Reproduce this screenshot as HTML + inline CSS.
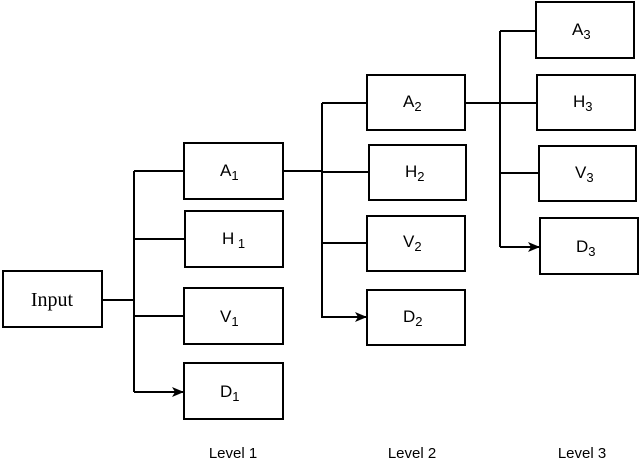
<!DOCTYPE html>
<html><head><meta charset="utf-8"><style>
html,body{margin:0;padding:0;background:#fff;}
svg{display:block;}
text{font-family:"Liberation Sans",Arial,sans-serif;font-size:17px;fill:#000;}
.s{font-size:13px;}
</style></head><body>
<svg width="640" height="460" viewBox="0 0 640 460" xmlns="http://www.w3.org/2000/svg">
<defs>
<marker id="ar" markerWidth="12" markerHeight="10" refX="11" refY="5" orient="auto" markerUnits="userSpaceOnUse">
<path d="M0,0 L12,5 L0,10 L3,5 Z" fill="#000"/>
</marker>
</defs>
<g fill="none" stroke="#000" stroke-width="2">
<rect x="3" y="271" width="99" height="56"/>
<rect x="184" y="143" width="99" height="56"/>
<rect x="185" y="211" width="98" height="56"/>
<rect x="184" y="288" width="99" height="56"/>
<rect x="184" y="363" width="99" height="56"/>
<rect x="367" y="75" width="98" height="55"/>
<rect x="369" y="145" width="97" height="55"/>
<rect x="367" y="216" width="98" height="55"/>
<rect x="367" y="290" width="98" height="55"/>
<rect x="536" y="2" width="98" height="56"/>
<rect x="537" y="75" width="98" height="55"/>
<rect x="539" y="146" width="97" height="55"/>
<rect x="540" y="218" width="98" height="56"/>
<path d="M102,300 H134 M134,171 V392"/>
<path d="M134,171 H183 M134,239 H184 M134,316 H183 M134,392 H183" marker-end="url(#ar)"/>
<path d="M283,171 H322 M322,103 V318"/>
<path d="M322,103 H366 M322,172 H368 M322,243 H366 M322,317 H366" marker-end="url(#ar)"/>
<path d="M465,103 H500 M500,31 V247"/>
<path d="M500,31 H535 M500,103 H536 M500,173 H538 M500,247 H539" marker-end="url(#ar)"/>
</g>
<text x="52" y="306" text-anchor="middle" style="font-family:'Liberation Serif',serif;font-size:20px">Input</text>
<text x="220" y="176">A<tspan class="s" dy="4">1</tspan></text>
<text x="222" y="244">H<tspan class="s" dy="4"> 1</tspan></text>
<text x="220" y="322">V<tspan class="s" dy="4">1</tspan></text>
<text x="220" y="397">D<tspan class="s" dy="4">1</tspan></text>
<text x="403" y="107">A<tspan class="s" dy="4">2</tspan></text>
<text x="405" y="177">H<tspan class="s" dy="4">2</tspan></text>
<text x="403" y="247">V<tspan class="s" dy="4">2</tspan></text>
<text x="403" y="322">D<tspan class="s" dy="4">2</tspan></text>
<text x="572" y="35">A<tspan class="s" dy="4">3</tspan></text>
<text x="573" y="107">H<tspan class="s" dy="4">3</tspan></text>
<text x="575" y="178">V<tspan class="s" dy="4">3</tspan></text>
<text x="576" y="252">D<tspan class="s" dy="4">3</tspan></text>
<text x="233" y="458" text-anchor="middle" style="font-size:15px">Level 1</text>
<text x="412" y="458" text-anchor="middle" style="font-size:15px">Level 2</text>
<text x="582" y="458" text-anchor="middle" style="font-size:15px">Level 3</text>
</svg>
</body></html>
